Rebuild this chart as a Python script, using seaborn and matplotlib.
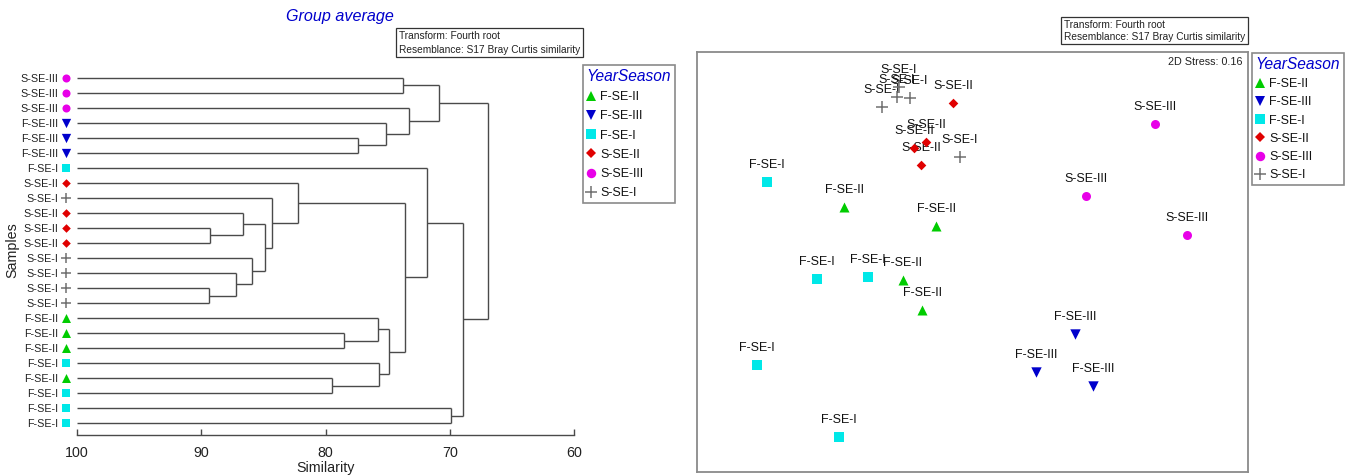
import matplotlib
matplotlib.use("Agg")
import matplotlib.pyplot as plt
from matplotlib.lines import Line2D
from matplotlib import font_manager as fm
import seaborn as sns

# ---------------- data ----------------
leaf_labels = ["S-SE-III", "S-SE-III", "S-SE-III", "F-SE-III", "F-SE-III", "F-SE-III",
               "F-SE-I", "S-SE-II", "S-SE-I", "S-SE-II", "S-SE-II", "S-SE-II",
               "S-SE-I", "S-SE-I", "S-SE-I", "S-SE-I", "F-SE-II", "F-SE-II",
               "F-SE-II", "F-SE-I", "F-SE-II", "F-SE-I", "F-SE-I", "F-SE-I"]

# group-average merges: (child a, child b, similarity); node id = 24 + merge index
merge_a = [14, 10, 13, 9, 12, 27, 8, 7, 20, 17, 4, 16, 19, 3, 35, 0, 31, 2, 6, 39, 22, 42, 43]
merge_b = [15, 11, 24, 25, 26, 28, 29, 30, 21, 18, 5, 33, 32, 34, 36, 1, 38, 37, 40, 41, 23, 44, 45]
merge_sim = [89.4, 89.3, 87.2, 86.6, 85.9, 84.9, 84.3, 82.2, 79.5, 78.5, 77.4, 75.8,
             75.7, 75.1, 74.9, 73.8, 73.6, 73.3, 71.8, 70.9, 69.9, 68.9, 66.9]

sim_ticks = [100, 90, 80, 70, 60]

mds_group = (["S-SE-I"] * 5 + ["S-SE-II"] * 4 + ["S-SE-III"] * 3 +
             ["F-SE-I"] * 5 + ["F-SE-II"] * 4 + ["F-SE-III"] * 3)
mds_x = [-0.90, -0.75, -0.62, -0.73, -0.12,
         -0.19, -0.46, -0.58, -0.51,
         1.83, 1.14, 2.15,
         -2.05, -1.55, -1.04, -2.15, -1.33,
         -1.28, -0.36, -0.69, -0.50,
         1.03, 0.64, 1.21]
mds_y = [1.55, 1.65, 1.64, 1.75, 1.05,
         1.59, 1.20, 1.14, 0.97,
         1.38, 0.66, 0.27,
         0.80, -0.17, -0.15, -1.03, -1.75,
         0.55, 0.36, -0.18, -0.48,
         -0.72, -1.10, -1.24]

legend_order = ["F-SE-II", "F-SE-III", "F-SE-I", "S-SE-II", "S-SE-III", "S-SE-I"]
group_marker = {"F-SE-II": "^", "F-SE-III": "v", "F-SE-I": "s",
                "S-SE-II": "D", "S-SE-III": "o", "S-SE-I": "+"}
group_color = {"F-SE-II": "#00CC00", "F-SE-III": "#0000CC", "F-SE-I": "#00E8E8",
               "S-SE-II": "#E00000", "S-SE-III": "#E800E8", "S-SE-I": "#707070"}
marker_area = {"^": 52, "v": 56, "s": 42, "D": 24, "o": 42, "+": 64}
marker_ms = {"^": 7.5, "v": 7.5, "s": 6.5, "D": 5.0, "o": 6.8, "+": 8.5}

# ---------------- style ----------------
sns.set_theme(style="white")
names = {f.name for f in fm.fontManager.ttflist}
NARROW = "Liberation Sans Narrow" in names
BASE = "Liberation Sans Narrow" if NARROW else "Liberation Sans"
K = 1.0 if NARROW else 0.86
K2 = 1.0 if NARROW else 0.93
plt.rcParams["font.family"] = [BASE, "DejaVu Sans"]
TITLE_BLUE = "#0000CC"
LINE = "#4a4a4a"

W, H = 1351, 475
fig = plt.figure(figsize=(W / 100, H / 100), dpi=100)


def fx(p):
    return p / W


def fy(p):
    return 1 - p / H


# ---------------- dendrogram ----------------
ax_d = fig.add_axes([fx(77), fy(435), (574 - 77) / W, (435 - 69) / H])
n = len(leaf_labels)
pos = {i: (float(i), 100.0) for i in range(n)}
for k, (a, b, s) in enumerate(zip(merge_a, merge_b, merge_sim)):
    ya, xa = pos[a]
    yb, xb = pos[b]
    ax_d.plot([xa, s], [ya, ya], color=LINE, lw=1.0, solid_capstyle="butt")
    ax_d.plot([xb, s], [yb, yb], color=LINE, lw=1.0, solid_capstyle="butt")
    ax_d.plot([s, s], [ya, yb], color=LINE, lw=1.0, solid_capstyle="butt")
    pos[n + k] = ((ya + yb) / 2, s)

ax_d.set_xlim(100, 60)
ax_d.set_ylim(23.8, -0.6)
px_per_unit = (574 - 77) / 40.0
leaf_marker_x = 100 + 11 / px_per_unit
for g in legend_order:
    idx = [i for i, lab in enumerate(leaf_labels) if lab == g]
    m = group_marker[g]
    kw = dict(linewidth=1.1) if m == "+" else dict(linewidth=0)
    sns.scatterplot(x=[leaf_marker_x] * len(idx), y=idx, marker=m, color=group_color[g],
                    s=marker_area[m] * 0.8, ax=ax_d, clip_on=False, zorder=4, **kw)

ax_d.set_yticks(range(n))
ax_d.set_yticklabels(leaf_labels, fontsize=9 * K, color="#222222")
ax_d.tick_params(axis="y", length=0, pad=13.7)
ax_d.set_xticks(sim_ticks)
ax_d.set_xticklabels([str(t) for t in sim_ticks], fontsize=11 * K2, color="#222222")
ax_d.tick_params(axis="x", direction="in", length=4.5, width=1.0, color=LINE, pad=8,
                 bottom=True)
for sp in ["top", "right", "left"]:
    ax_d.spines[sp].set_visible(False)
ax_d.spines["bottom"].set_color(LINE)
ax_d.spines["bottom"].set_linewidth(1.0)
ax_d.set_xlabel("Similarity", fontsize=11 * K2, color="#222222")
ax_d.xaxis.set_label_coords(0.5, (435 - 461) / 366)
ax_d.set_ylabel("Samples", fontsize=11 * K2, color="#222222")
ax_d.yaxis.set_label_coords((19 - 77) / 497, 0.505)
ax_d.set_title("Group average", x=(339.5 - 77) / 497, y=(435 - 17) / 366, va="center",
               pad=0, fontsize=12.5 * K2, style="italic", color=TITLE_BLUE)

box_kw = dict(boxstyle="square,pad=0.25", facecolor="white", edgecolor="#333333", linewidth=0.9)
fig.text(fx(399), fy(31), "Transform: Fourth root\nResemblance: S17 Bray Curtis similarity",
         ha="left", va="top", fontsize=8.5 * K, linespacing=1.45, color="#222222", bbox=box_kw)

# ---------------- MDS ----------------
ax_m = fig.add_axes([fx(696.7), fy(472.3), 551 / W, 420 / H])
for g in legend_order:
    xs = [x for x, gg in zip(mds_x, mds_group) if gg == g]
    ys = [y for y, gg in zip(mds_y, mds_group) if gg == g]
    m = group_marker[g]
    kw = dict(linewidth=1.1) if m == "+" else dict(linewidth=0)
    sns.scatterplot(x=xs, y=ys, marker=m, color=group_color[g], s=marker_area[m],
                    ax=ax_m, zorder=4, **kw)
for x, y, g in zip(mds_x, mds_y, mds_group):
    ax_m.annotate(g, (x, y), xytext=(0, 12.5), textcoords="offset points",
                  ha="center", va="center", fontsize=10.5 * K, color="#111111", zorder=3)
ax_m.set_xlim(-2.753, 2.757)
ax_m.set_ylim(-2.103, 2.097)
ax_m.set_xticks([])
ax_m.set_yticks([])
for sp in ax_m.spines.values():
    sp.set_visible(True)
    sp.set_color("#8a8a8a")
    sp.set_linewidth(1.3)
ax_m.text(0.991, 1 - 9.4 / 420, "2D Stress: 0.16", transform=ax_m.transAxes,
          ha="right", va="center", fontsize=9 * K, color="#222222")
fig.text(fx(1245), fy(19.5), "Transform: Fourth root\nResemblance: S17 Bray Curtis similarity",
         ha="right", va="top", fontsize=8.5 * K, linespacing=1.3, color="#222222", bbox=box_kw,
         multialignment="left")


# ---------------- legends ----------------
def add_legend(left, top, spacing):
    handles = []
    for g in legend_order:
        m = group_marker[g]
        handles.append(Line2D([], [], linestyle="none", marker=m, color=group_color[g],
                              markersize=marker_ms[m], markeredgewidth=(1.1 if m == "+" else 0)))
    leg = fig.legend(handles, legend_order, loc="upper left",
                     bbox_to_anchor=(fx(left), fy(top)), bbox_transform=fig.transFigure,
                     borderaxespad=0, frameon=True, fancybox=False, framealpha=1,
                     edgecolor="#8a8a8a", title="YearSeason",
                     title_fontproperties={"style": "italic", "size": 13 * K},
                     fontsize=10.5 * K, labelspacing=spacing, handlelength=0.7,
                     handletextpad=0.35, borderpad=0.3, alignment="left")
    leg.get_title().set_color(TITLE_BLUE)
    leg.get_frame().set_linewidth(1.2)
    for txt in leg.get_texts():
        txt.set_color("#111111")
    return leg


add_legend(583, 65, 0.58)
add_legend(1252, 53, 0.5)

fig.savefig("out.png", dpi=100)
